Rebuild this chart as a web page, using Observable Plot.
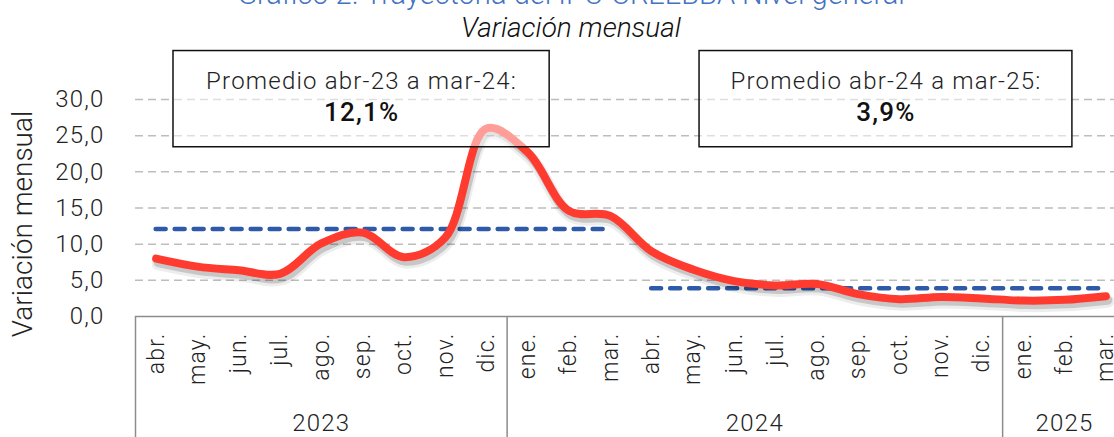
<!DOCTYPE html>
<html>
<head>
<meta charset="utf-8">
<script src="https://cdn.jsdelivr.net/npm/d3@7"></script>
<script src="https://cdn.jsdelivr.net/npm/@observablehq/plot@0.6"></script>
<style>
  html, body { margin: 0; padding: 0; background: #fff; overflow: hidden; }
  #wrap { position: relative; width: 1114px; height: 437px; overflow: hidden; }
  #title { position: absolute; top: -23px; left: 0; width: 1142px; text-align: center;
           font-family: "Roboto", sans-serif; font-weight: 300; font-size: 29px; color: #4472c4; white-space: nowrap; }
  #subtitle { position: absolute; top: 11px; left: 0; width: 1142px; text-align: center;
           font-family: "Roboto", sans-serif; font-weight: 300; font-style: italic; font-size: 28px; color: #111; white-space: nowrap; }
  #ylabel { position: absolute; left: -126.6px; top: 209.5px; width: 300px; height: 28px; line-height: 28px;
           text-align: center; transform: rotate(-90deg); transform-origin: 150px 14px;
           font-family: "Roboto", sans-serif; font-weight: 300; font-size: 28px; color: #222; white-space: nowrap; }
  #chart { position: absolute; top: 0; left: 0; }
  #chart svg { overflow: hidden; max-width: none; }
</style>
</head>
<body>
<div id="wrap">
  <div id="chart"></div>
  <div id="title">Gráfico 2. Trayectoria del IPC-CREEBBA Nivel general</div>
  <div id="subtitle">Variación mensual</div>
  <div id="ylabel">Variación mensual</div>
</div>
<script>
// ---- data ----
const months = ["abr.","may.","jun.","jul.","ago.","sep.","oct.","nov.","dic.","ene.","feb.","mar.",
                "abr.","may.","jun.","jul.","ago.","sep.","oct.","nov.","dic.","ene.","feb.","mar."];
const years = ["2023","2024","2025"];
const yearStart = [0, 9, 21];   // index of first month of each year
const yearEnd = [8, 20, 23];    // index of last month of each year
const values = [8.0, 6.9, 6.4, 5.9, 10.1, 11.6, 8.2, 10.9, 26.0, 22.7, 14.6, 13.9,
                9.0, 6.5, 4.9, 4.3, 4.5, 3.1, 2.4, 2.7, 2.5, 2.2, 2.3, 2.8];
const periodLabels = ["Promedio abr-23 a mar-24:", "Promedio abr-24 a mar-25:"];
const periodAverages = [12.1, 3.9];
const periodFrom = [0, 12];
const periodTo = [11, 23];
const yTicks = [0, 5, 10, 15, 20, 25, 30];

// ---- annotation box placement (in axis units) ----
const boxLayout = {x1: [0.42, 13.16], x2: [9.53, 22.19], y1: 23.4, y2: 36.7, labelY: 32.5, valueY: 28.2};

// ---- derived tables ----
const series = values.map((v, i) => ({i, v}));
const periods = periodAverages.map((a, k) => ({
  x1: periodFrom[k], x2: periodTo[k], y: a,
  label: periodLabels[k], value: a.toFixed(1).replace(".", ",") + "%",
  bx1: boxLayout.x1[k], bx2: boxLayout.x2[k]
}));
const yearRows = years.map((y, k) => ({year: y, x: (yearStart[k] + yearEnd[k]) / 2}));
const separators = [-0.5, yearEnd[0] + 0.5, yearEnd[1] + 0.5];

const fmt = d => d.toFixed(1).replace(".", ",");
const FONT = "Roboto, sans-serif";

const plot = Plot.plot({
  width: 1114,
  height: 437,
  marginTop: 99,
  marginBottom: 121,
  marginLeft: 135,
  marginRight: 0,
  style: {fontFamily: FONT, fontWeight: 300, color: "#222", background: "transparent", letterSpacing: "1.2px"},
  x: {type: "linear", domain: [-0.5, 23.5], range: [135, 1126]},
  y: {domain: [0, 30], range: [316, 99]},
  marks: [
    Plot.ruleY(yTicks.filter(d => d > 0), {stroke: "#bdbdbd", strokeWidth: 1.5, strokeDasharray: "8,5"}),
    Plot.ruleY([0], {stroke: "#8c8c8c", strokeWidth: 1.5}),
    Plot.ruleX(separators, {y1: 0, y2: -17, stroke: "#8c8c8c", strokeWidth: 1.5, clip: false}),
    Plot.axisY({ticks: yTicks, tickFormat: fmt, tickSize: 0, tickPadding: 31, fontSize: 24, label: null}),
    Plot.axisX({ticks: d3.range(months.length), tickFormat: i => months[i], tickRotate: -90,
                tickSize: 0, tickPadding: 16, fontSize: 23, label: null}),
    Plot.text(yearRows, {x: "x", text: "year", frameAnchor: "bottom", lineAnchor: "middle", dy: 107,
                fontSize: 24, fill: "#222"}),
    Plot.ruleY(periods, {x1: "x1", x2: "x2", y: "y", stroke: "#2f5aa8", strokeWidth: 4.5,
                strokeDasharray: "10,9", strokeLinecap: "round"}),
    // soft shadow under the line
    Plot.line(series, {x: "i", y: "v", stroke: "#000", strokeOpacity: 0.07, strokeWidth: 13, dx: 2, dy: 5,
                curve: "catmull-rom", strokeLinecap: "round"}),
    Plot.line(series, {x: "i", y: "v", stroke: "#000", strokeOpacity: 0.16, strokeWidth: 9, dx: 2, dy: 4,
                curve: "catmull-rom", strokeLinecap: "round"}),
    Plot.line(series, {x: "i", y: "v", stroke: "#ff3b30", strokeWidth: 8, curve: "catmull-rom",
                strokeLinecap: "round"}),
    Plot.rect(periods, {x1: "bx1", x2: "bx2", y1: boxLayout.y1, y2: boxLayout.y2, fill: "white", fillOpacity: 0.5,
                stroke: "#111", strokeWidth: 1.5}),
    Plot.text(periods, {x: d => (d.bx1 + d.bx2) / 2, y: boxLayout.labelY, text: "label", fontSize: 24, fill: "#222"}),
    Plot.text(periods, {x: d => (d.bx1 + d.bx2) / 2, y: boxLayout.valueY, text: "value", fontSize: 26,
                fontWeight: 500, fill: "#111"})
  ]
});

document.getElementById("chart").appendChild(plot);
</script>
</body>
</html>
